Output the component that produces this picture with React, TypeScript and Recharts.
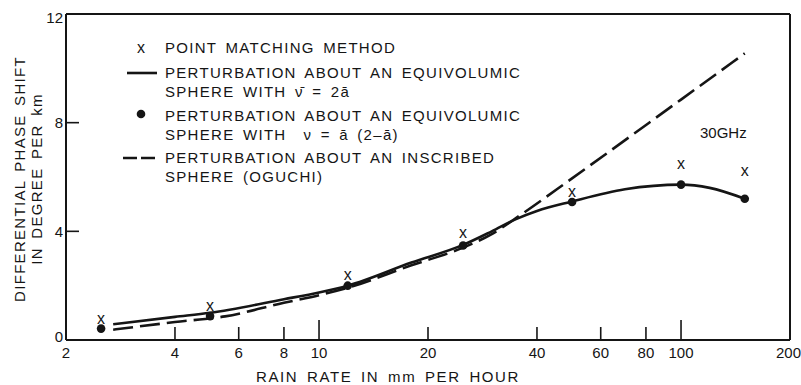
import React from 'react';
import { ComposedChart, Line, Scatter, XAxis, YAxis, ReferenceLine, Legend, Label } from 'recharts';

// Rain rates where markers are plotted (mm per hour)
const rainRates = [2.5, 5, 12, 25, 50, 100, 150];
// Point matching method (x markers)
const pointMatching = [0.8, 1.25, 2.4, 3.95, 5.48, 6.48, 6.22];
// Perturbation about equivolumic sphere with nu = a(2-a) (dots)
const equivolumicDots = [0.42, 0.88, 2.0, 3.48, 5.08, 5.72, 5.2];

// Solid curve: perturbation about equivolumic sphere with nu-bar = 2a
const solidRates = [2.7, 4, 5, 8, 10, 12, 18, 25, 30, 35, 40, 50, 70, 100, 120, 150];
const solidValues = [0.58, 0.85, 1.0, 1.5, 1.75, 2.0, 2.85, 3.5, 4.0, 4.45, 4.75, 5.1, 5.55, 5.72, 5.6, 5.2];

// Dashed curve: perturbation about inscribed sphere (Oguchi)
const dashedRates = [2.7, 4, 5.5, 8, 10, 12, 18, 25, 30, 36, 50, 100, 150];
const dashedValues = [0.38, 0.66, 0.87, 1.37, 1.65, 1.92, 2.75, 3.4, 3.9, 4.6, 5.95, 8.85, 10.55];

const xTicks = [2, 4, 6, 8, 10, 20, 40, 60, 80, 100, 200];
const yTicks = [0, 4, 8, 12];

const legendItems = [
  { kind: 'x', lines: ['POINT MATCHING METHOD'] },
  { kind: 'solid', lines: ['PERTURBATION ABOUT AN EQUIVOLUMIC', 'SPHERE WITH \u03BD\u0304 = 2\u0101'] },
  { kind: 'dot', lines: ['PERTURBATION ABOUT AN EQUIVOLUMIC', 'SPHERE WITH  \u03BD = \u0101 (2\u2013\u0101)'] },
  { kind: 'dashed', lines: ['PERTURBATION ABOUT AN INSCRIBED', 'SPHERE (OGUCHI)'] },
];
const frequencyLabel = '30GHz';
const xTitle = 'RAIN RATE IN mm PER HOUR';
const yTitle = ['DIFFERENTIAL PHASE SHIFT', 'IN DEGREE PER km'];

const solidData = solidRates.map((x, i) => ({ x, y: solidValues[i] }));
const dashedData = dashedRates.map((x, i) => ({ x, y: dashedValues[i] }));
const crossData = rainRates.map((x, i) => ({ x, y: pointMatching[i] }));
const dotData = rainRates.map((x, i) => ({ x, y: equivolumicDots[i] }));

const INK = '#151515';
const FONT = '"Liberation Sans", Arial, Helvetica, sans-serif';
const TEXT_STYLE = { fontSize: 15, letterSpacing: 1.3, wordSpacing: 3, fontFamily: FONT, fill: INK } as const;

const XTick = (props: any) => {
  const { x, y, payload } = props;
  const v = payload.value;
  const len = v === 10 || v === 100 ? 20 : 13;
  const showLine = v !== 2 && v !== 200;
  const isLast = v === 200;
  return (
    <g>
      {showLine && <line x1={x} x2={x} y1={y} y2={y - len} stroke={INK} strokeWidth={1.6} />}
      <text
        x={isLast ? x + 11 : x}
        y={y + 18}
        textAnchor={isLast ? 'end' : 'middle'}
        fontSize={15}
        fontFamily={FONT}
        fill={INK}
      >
        {v}
      </text>
    </g>
  );
};

const YTick = (props: any) => {
  const { x, y, payload } = props;
  const v = payload.value;
  const showLine = v !== 0 && v !== 12;
  const dy = v === 0 ? -3 : v === 12 ? 4 : 0;
  return (
    <g>
      {showLine && <line x1={x} x2={x + 13} y1={y} y2={y} stroke={INK} strokeWidth={1.6} />}
      <text x={x - 3} y={y + dy} dy="0.36em" textAnchor="end" fontSize={15} fontFamily={FONT} fill={INK}>
        {v}
      </text>
    </g>
  );
};

const CrossShape = (props: any) => {
  const { cx, cy } = props;
  return (
    <text x={cx} y={cy} dy="0.34em" textAnchor="middle" fontSize={16} fontFamily={FONT} fill={INK}>
      x
    </text>
  );
};

const DotShape = (props: any) => {
  const { cx, cy } = props;
  return <circle cx={cx} cy={cy} r={4.3} fill={INK} />;
};

const LegendContent = () => {
  const textX = 165;
  const rows = [48, 73, 116, 158];
  const lineGap = 19;
  return (
    <svg width={801} height={200} style={{ display: 'block' }}>
      {legendItems.map((item, i) => {
        const y = rows[i];
        let sample: React.ReactNode = null;
        if (item.kind === 'x') {
          sample = (
            <text x={141} y={y} dy="0.34em" textAnchor="middle" fontSize={16} fontFamily={FONT} fill={INK}>
              x
            </text>
          );
        } else if (item.kind === 'solid') {
          sample = <line x1={127} x2={157} y1={y} y2={y} stroke={INK} strokeWidth={2.6} />;
        } else if (item.kind === 'dot') {
          sample = <circle cx={141} cy={y - 2} r={4.3} fill={INK} />;
        } else {
          sample = (
            <line x1={123} x2={155} y1={y} y2={y} stroke={INK} strokeWidth={2.6} strokeDasharray="14 4" />
          );
        }
        return (
          <g key={i}>
            {sample}
            {item.lines.map((ln, j) => (
              <text key={j} x={textX} y={y + j * lineGap} dy="0.36em" {...TEXT_STYLE} style={{ whiteSpace: 'pre' }}>
                {ln}
              </text>
            ))}
          </g>
        );
      })}
      <text x={700} y={133} dy="0.36em" fontSize={15} fontFamily={FONT} fill={INK}>
        {frequencyLabel}
      </text>
    </svg>
  );
};

const YTitle = (props: any) => {
  const vb = props.viewBox || {};
  const cy = (vb.y ?? 14) + (vb.height ?? 326) / 2 + 2;
  return (
    <g>
      {yTitle.map((t, i) => (
        <text
          key={i}
          x={0}
          y={0}
          transform={`translate(${20 + i * 17}, ${cy}) rotate(-90)`}
          dy="0.36em"
          textAnchor="middle"
          {...TEXT_STYLE}
        >
          {t}
        </text>
      ))}
    </g>
  );
};

const XTitle = () => (
  <text x={388} y={377} dy="0.36em" textAnchor="middle" {...TEXT_STYLE} letterSpacing={1.6}>
    {xTitle}
  </text>
);

export default function App() {
  return (
    <div style={{ position: 'absolute', left: 0, top: 0, width: 801, height: 385, background: '#fff' }}>
      <ComposedChart width={801} height={385} margin={{ top: 14, right: 11, bottom: 0, left: 0 }}>
        <XAxis
          dataKey="x"
          type="number"
          scale="log"
          domain={[2, 200]}
          allowDataOverflow
          ticks={xTicks}
          tick={<XTick />}
          tickLine={false}
          tickSize={0}
          tickMargin={0}
          height={45}
          axisLine={{ stroke: INK, strokeWidth: 2 }}
          interval={0}
        >
          <Label content={<XTitle />} />
        </XAxis>
        <YAxis
          type="number"
          domain={[0, 12]}
          ticks={yTicks}
          tick={<YTick />}
          tickLine={false}
          tickSize={0}
          tickMargin={0}
          width={66}
          axisLine={{ stroke: INK, strokeWidth: 2 }}
          interval={0}
        >
          <Label content={<YTitle />} />
        </YAxis>
        <ReferenceLine y={12} stroke={INK} strokeWidth={2} />
        <ReferenceLine x={200} stroke={INK} strokeWidth={2} />
        <Line
          data={solidData}
          dataKey="y"
          type="monotone"
          stroke={INK}
          strokeWidth={2.6}
          dot={false}
          activeDot={false}
          isAnimationActive={false}
        />
        <Line
          data={dashedData}
          dataKey="y"
          type="monotone"
          stroke={INK}
          strokeWidth={2.6}
          strokeDasharray="20 7"
          dot={false}
          activeDot={false}
          isAnimationActive={false}
        />
        <Scatter data={dotData} dataKey="y" shape={<DotShape />} isAnimationActive={false} />
        <Scatter data={crossData} dataKey="y" shape={<CrossShape />} isAnimationActive={false} />
        <Legend
          layout="horizontal"
          verticalAlign="middle"
          align="center"
          width={801}
          height={200}
          wrapperStyle={{ left: 0, top: 0, width: 801, height: 200 }}
          content={<LegendContent />}
        />
      </ComposedChart>
    </div>
  );
}
